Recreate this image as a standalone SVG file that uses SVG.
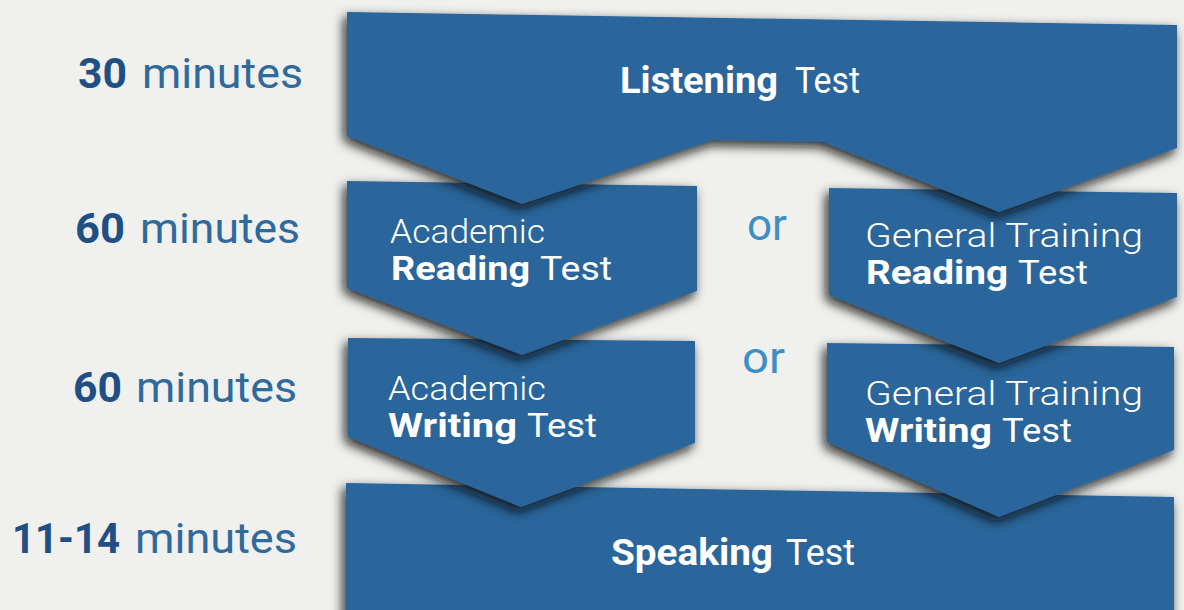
<svg xmlns="http://www.w3.org/2000/svg" width="1184" height="610" viewBox="0 0 1184 610">
  <defs>
    <filter id="shadow" x="-10%" y="-25%" width="120%" height="160%">
      <feDropShadow dx="-3" dy="5" stdDeviation="6" flood-color="#101010" flood-opacity="0.9"/>
    </filter>
    <style>
      .box { fill: #2b669b; filter: url(#shadow); }
      .t { font-family: "Roboto", "Liberation Sans", sans-serif; }
      .w { fill: #ffffff; }
      .b { font-weight: 700; }
      .r { font-weight: 400; }
      .l { font-weight: 300; }
      .num { fill: #1f4f85; font-weight: 700; font-size: 42px; }
      .min { fill: #2f6a9c; font-weight: 400; font-size: 42px; }
      .or { fill: #3d8ec4; font-weight: 400; font-size: 44px; }
      .big { font-size: 36px; }
      .mid { font-size: 34px; }
    </style>
  </defs>

  <rect x="0" y="0" width="1184" height="610" fill="#f0f0ee"/>

  <g id="time-labels" class="t">
    <text class="num" x="78" y="88" textLength="49" lengthAdjust="spacingAndGlyphs">30</text>
    <text class="min" x="142" y="88" textLength="161" lengthAdjust="spacingAndGlyphs">minutes</text>
    <text class="num" x="75" y="243" textLength="50" lengthAdjust="spacingAndGlyphs">60</text>
    <text class="min" x="140" y="243" textLength="160" lengthAdjust="spacingAndGlyphs">minutes</text>
    <text class="num" x="73" y="402" textLength="49" lengthAdjust="spacingAndGlyphs">60</text>
    <text class="min" x="136" y="402" textLength="161" lengthAdjust="spacingAndGlyphs">minutes</text>
    <text class="num" x="12" y="553" textLength="108" lengthAdjust="spacingAndGlyphs">11-14</text>
    <text class="min" x="135" y="553" textLength="162" lengthAdjust="spacingAndGlyphs">minutes</text>
  </g>

  <g id="speaking" class="t">
    <path class="box" d="M346,483 L1174,497 L1174,620 L346,620 Z"/>
    <text class="w b big" x="611" y="565" textLength="162" lengthAdjust="spacingAndGlyphs">Speaking</text>
    <text class="w r big" x="786" y="565" textLength="69" lengthAdjust="spacingAndGlyphs">Test</text>
  </g>

  <g id="academic-writing" class="t">
    <path class="box" d="M348,338 L695,341 L695,443 L521,507 L348,437 Z"/>
    <text class="w l mid" x="388" y="400" textLength="158" lengthAdjust="spacingAndGlyphs">Academic</text>
    <text class="w b mid" x="388" y="437" textLength="129" lengthAdjust="spacingAndGlyphs">Writing</text>
    <text class="w r mid" x="527" y="437" textLength="70" lengthAdjust="spacingAndGlyphs">Test</text>
  </g>

  <g id="general-writing" class="t">
    <path class="box" d="M827,343 L1174,347 L1174,450 L999,517 L827,442 Z"/>
    <text class="w l mid" x="865" y="405" textLength="278" lengthAdjust="spacingAndGlyphs">General Training</text>
    <text class="w b mid" x="865" y="442" textLength="127" lengthAdjust="spacingAndGlyphs">Writing</text>
    <text class="w r mid" x="1002" y="442" textLength="70" lengthAdjust="spacingAndGlyphs">Test</text>
  </g>

  <g id="academic-reading" class="t">
    <path class="box" d="M347,181 L697,186 L697,291 L522,355 L347,288 Z"/>
    <text class="w l mid" x="390" y="243" textLength="155" lengthAdjust="spacingAndGlyphs">Academic</text>
    <text class="w b mid" x="391" y="280" textLength="139" lengthAdjust="spacingAndGlyphs">Reading</text>
    <text class="w r mid" x="540" y="280" textLength="72" lengthAdjust="spacingAndGlyphs">Test</text>
  </g>

  <g id="general-reading" class="t">
    <path class="box" d="M829,188 L1177,193 L1177,297 L999,363 L829,295 Z"/>
    <text class="w l mid" x="865" y="247" textLength="278" lengthAdjust="spacingAndGlyphs">General Training</text>
    <text class="w b mid" x="866" y="284" textLength="142" lengthAdjust="spacingAndGlyphs">Reading</text>
    <text class="w r mid" x="1018" y="284" textLength="70" lengthAdjust="spacingAndGlyphs">Test</text>
  </g>

  <g id="listening" class="t">
    <path class="box" d="M347,12 L1177,25 L1177,148 L999,212 L823,142 L713,140 L522,204 L347,136 Z"/>
    <text class="w b big" x="620" y="93" textLength="158" lengthAdjust="spacingAndGlyphs">Listening</text>
    <text class="w r big" x="795" y="93" textLength="65" lengthAdjust="spacingAndGlyphs">Test</text>
  </g>

  <g id="or-labels" class="t">
    <text class="or" x="747" y="240" textLength="40" lengthAdjust="spacingAndGlyphs">or</text>
    <text class="or" x="742" y="373" textLength="43" lengthAdjust="spacingAndGlyphs">or</text>
  </g>
</svg>
